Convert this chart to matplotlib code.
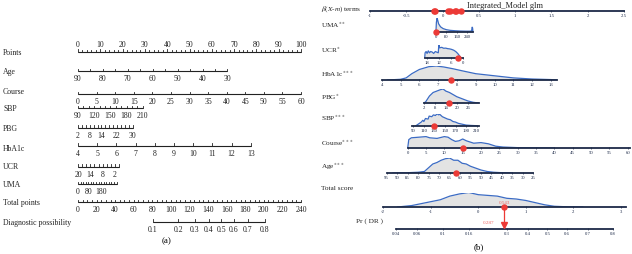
import numpy as np
import matplotlib.pyplot as plt

plt.rcParams['font.family'] = ['Liberation Serif', 'DejaVu Serif']
plt.rcParams['mathtext.fontset'] = 'stix'

W, H = 632, 255

# ---------------- (a) nomogram data ----------------
row_names = ['Points', 'Age', 'Course', 'SBP', 'PBG', 'HbA1c', 'UCR', 'UMA',
             'Total points', 'Diagnostic possibility']

points_ticks = list(range(0, 101, 2))
points_labels = list(range(0, 101, 10))

age_ticks = list(range(90, 29, -5))
age_labels = [90, 80, 70, 60, 50, 40, 30]
course_ticks = list(range(0, 61, 5))
course_labels = list(range(0, 61, 5))
sbp_ticks = list(range(90, 211, 10))
sbp_labels = [90, 120, 150, 180, 210]
pbg_ticks = list(range(2, 31, 2))
pbg_labels = [2, 8, 14, 22, 30]
hba1c_ticks = list(range(4, 14))
hba1c_labels = list(range(4, 14))
ucr_ticks = list(range(20, -1, -2))
ucr_labels = [20, 14, 8, 2]
uma_ticks = list(range(0, 301, 20))
uma_labels = [0, 80, 180]
total_ticks = list(range(0, 241, 5))
total_labels = list(range(0, 241, 20))
diag_ticks = [0.1, 0.2, 0.3, 0.4, 0.5, 0.6, 0.7, 0.8]

# (value giving 0 points, value at end of scale, points at end of scale)
age_scale = (90, 30, 67.0)
course_scale = (0, 60, 100.0)
sbp_scale = (90, 210, 29.0)
pbg_scale = (2, 30, 24.5)
hba1c_scale = (4, 13, 77.5)
ucr_scale = (20, 0, 18.4)
uma_scale = (0, 300, 17.3)
total_scale = (0, 240, 100.0)
# total points = diag_icpt + diag_slope * logit(p)
diag_icpt = 154.3
diag_slope = 33.5

# ---------------- (b) regplot data ----------------
beta_ticks = [-1, -0.5, 0, 0.5, 1, 1.5, 2, 2.5]
beta_terms = [-0.12, -0.10, 0.08, 0.10, 0.17, 0.19, 0.25]

uma_b_ticks = [0, 80, 160, 240]
uma_obs = 0
uma_dx = [0, 3, 8, 12, 20, 35, 55, 80, 110, 150, 190, 230, 270, 276, 280, 283, 286]
uma_dy = [0.1, 0.7, 1.0, 0.9, 0.6, 0.38, 0.25, 0.17, 0.12, 0.09, 0.07, 0.06, 0.06, 0.12, 0.35, 0.3, 0.0]

ucr_b_ticks = [18, 12, 6, 0]
ucr_obs = 2.2
ucr_dx = [19, 18.8, 18.3, 17.8, 17.2, 16.6, 16.0, 15.2, 14.5, 13.7, 13.0, 12.2, 12.0, 11.8, 11.5,
          10.5, 9.5, 8.5, 7.5, 6.5, 5.5, 4.5, 3.5, 2.5, 1.5, 0.8]
ucr_dy = [0.0, 0.4, 0.5, 0.35, 0.55, 0.4, 0.5, 0.45, 0.35, 0.5, 0.45, 0.4, 0.9, 1.0, 0.78,
          0.82, 0.75, 0.76, 0.72, 0.7, 0.66, 0.6, 0.5, 0.35, 0.15, 0.0]

hba1c_b_ticks = list(range(4, 14))
hba1c_obs = 7.7
hba1c_dx = [4.3, 5.0, 5.3, 5.6, 6.0, 6.5, 6.9, 7.3, 7.8, 8.3, 9.0, 10.0, 11.0, 12.0, 13.0, 13.3]
hba1c_dy = [0.0, 0.05, 0.15, 0.45, 0.75, 0.95, 1.0, 0.93, 0.8, 0.65, 0.45, 0.3, 0.15, 0.07, 0.03, 0.0]

pbg_b_ticks = [2, 8, 14, 20, 26]
pbg_obs = 15.6
pbg_dx = [2, 3, 5, 7, 9, 11, 12.5, 14, 16, 18, 20, 23, 26, 29, 32]
pbg_dy = [0.0, 0.1, 0.5, 0.75, 0.85, 0.95, 1.0, 0.85, 0.75, 0.6, 0.45, 0.3, 0.15, 0.05, 0.0]

sbp_b_ticks = [90, 110, 130, 150, 170, 190, 210]
sbp_obs = 130
sbp_dx = [95, 100, 105, 108, 110, 113, 118, 120, 125, 128, 132, 135, 138, 140, 145, 150, 155,
          160, 165, 170, 175, 180, 190, 200, 210]
sbp_dy = [0.0, 0.15, 0.3, 0.45, 0.35, 0.6, 0.55, 0.8, 0.75, 0.9, 0.85, 1.0, 0.9, 0.95, 0.75,
          0.65, 0.55, 0.5, 0.35, 0.3, 0.2, 0.15, 0.05, 0.02, 0.0]

course_b_ticks = list(range(0, 61, 5))
course_obs = 15
course_dx = [0, 0.3, 1, 3, 5, 6, 8, 10, 11, 12, 13, 14, 15, 16, 18, 20, 22, 24, 26, 30, 35, 40]
course_dy = [0.0, 0.7, 0.85, 0.9, 0.95, 0.85, 0.8, 0.95, 0.9, 0.7, 0.55, 0.6, 0.75, 0.6, 0.4,
             0.45, 0.35, 0.15, 0.08, 0.03, 0.01, 0.0]

age_b_ticks = list(range(95, 24, -5))
age_obs = 62
age_dx = [92, 85, 80, 77, 75, 73, 71, 69, 67, 65, 63, 61, 59, 57, 55, 53, 50, 47, 44, 40, 35]
age_dy = [0.0, 0.02, 0.05, 0.1, 0.35, 0.6, 0.7, 0.85, 0.95, 1.0, 0.85, 0.85, 0.65, 0.6, 0.45,
          0.35, 0.2, 0.1, 0.05, 0.02, 0.0]

score_ticks = [-2, -1, 0, 1, 2, 3]
score_obs = 0.543
score_dx = [-1.7, -1.4, -1.1, -0.8, -0.6, -0.4, -0.2, 0.0, 0.2, 0.4, 0.6, 0.8, 1.0, 1.2, 1.4,
            1.6, 1.9, 2.2]
score_dy = [0.0, 0.1, 0.3, 0.5, 0.75, 0.9, 1.0, 0.85, 0.8, 0.75, 0.6, 0.55, 0.45, 0.3, 0.15,
            0.05, 0.01, 0.0]

pr_ticks = [0.04, 0.06, 0.1, 0.16, 0.3, 0.4, 0.5, 0.6, 0.7, 0.8]
pr_obs = 0.287


def logit(p):
    return np.log(p / (1 - p))


def scale_fn(sc):
    v0, v1, p1 = sc
    return lambda v: (v - v0) / (v1 - v0) * p1


fig = plt.figure(figsize=(W / 100, H / 100), dpi=100)

# ---------------- left panel ----------------
P0, P100 = 78.0, 301.0
ppu = (P100 - P0) / 100.0
axl = fig.add_axes([0, 0, 320 / W, 1])
axl.set_xlim(-P0 / ppu, (320 - P0) / ppu)
axl.set_ylim(H, 0)
axl.axis('off')

line_c = '#222222'
fs = 5.6


def fmt(v):
    return f"{v:g}"


def left_row(y, ticks, labels, fn, above=False, major=None):
    xs = [fn(v) for v in ticks]
    axl.plot([min(xs), max(xs)], [y, y], color=line_c, lw=0.8, solid_capstyle='butt')
    for v, x in zip(ticks, xs):
        ln = 2.4 if (major is None or v in major) else 1.5
        axl.plot([x, x], [y, y - ln], color=line_c, lw=0.6)
    dy = -7.5 if above else 7.0
    for v in labels:
        axl.text(fn(v), y + dy, fmt(v), ha='center', va='center', fontsize=fs, color='#222222')


line_ys = [52.7, 72, 95, 109.3, 128.7, 146.7, 167.7, 185, 203, 222.7]
label_ys = [53, 72, 92, 109, 129, 149, 167, 185, 203, 222.7]

tot_fn = scale_fn(total_scale)
diag_fn = lambda p: tot_fn(diag_icpt + diag_slope * logit(p))

left_row(line_ys[0], points_ticks, points_labels, lambda v: v, above=True, major=points_labels)
left_row(line_ys[1], age_ticks, age_labels, scale_fn(age_scale))
left_row(line_ys[2], course_ticks, course_labels, scale_fn(course_scale))
left_row(line_ys[3], sbp_ticks, sbp_labels, scale_fn(sbp_scale))
left_row(line_ys[4], pbg_ticks, pbg_labels, scale_fn(pbg_scale))
left_row(line_ys[5], hba1c_ticks, hba1c_labels, scale_fn(hba1c_scale))
left_row(line_ys[6], ucr_ticks, ucr_labels, scale_fn(ucr_scale))
left_row(line_ys[7], uma_ticks, uma_labels, scale_fn(uma_scale))
left_row(line_ys[8], total_ticks, total_labels, tot_fn)
left_row(line_ys[9], diag_ticks, diag_ticks, diag_fn)

for name, y in zip(row_names, label_ys):
    axl.text(-P0 / ppu + 3 / ppu, y, name, ha='left', va='center', fontsize=fs, color='#222222')

axl.text(tot_fn(95), 241, '(a)', ha='center', va='center', fontsize=6.5)

# ---------------- right panel ----------------
RX0, RX1 = 330.0, 632.0
red = '#ec3a36'
blue = '#3b6bc4'
axis_c = '#1d2a48'
tfs = 3.4


def row_axes(y_line, height, ref, bounds, ticks, labels=None):
    (va, pa), (vb, pb) = ref
    k = (pb - pa) / (vb - va)
    ax = fig.add_axes([RX0 / W, 1 - y_line / H, (RX1 - RX0) / W, height / H])
    ax.set_xlim(va + (RX0 - pa) / k, va + (RX1 - pa) / k)
    ax.set_ylim(0, 1)
    ax.patch.set_visible(False)
    for s in ['top', 'left', 'right']:
        ax.spines[s].set_visible(False)
    ax.spines['bottom'].set_bounds(*bounds)
    ax.spines['bottom'].set_color(axis_c)
    ax.spines['bottom'].set_linewidth(1.3)
    ax.set_yticks([])
    ax.set_xticks(ticks)
    ax.set_xticklabels([fmt(t) for t in ticks] if labels is None else labels)
    ax.tick_params(axis='x', length=1.6, width=0.5, pad=0.8, labelsize=tfs,
                   colors=axis_c, direction='inout')
    return ax


def density(ax, dx, dy):
    ax.fill_between(dx, 0, dy, color='#e3e3e3', lw=0, zorder=1)
    ax.plot(dx, dy, color=blue, lw=0.9, zorder=2)


def dot(ax, x):
    ax.plot([x], [0], 'o', ms=3.6, color=red, mec=red, clip_on=False, zorder=6)


axb = row_axes(12, 2, ((-1, 370), (2.5, 624)), (-1, 2.5), beta_ticks)
axb.set_ylim(0, 1)
for t in beta_terms:
    dot(axb, t)

rows = [
    (33, 13.7, ((0, 436), (240, 467)), (0, 290), uma_b_ticks, uma_dx, uma_dy, uma_obs),
    (59, 13.0, ((18, 426.7), (0, 462.7)), (19, 0), ucr_b_ticks, ucr_dx, ucr_dy, ucr_obs),
    (81, 14.0, ((4, 381.7), (13, 551.0)), (4, 13.3), hba1c_b_ticks, hba1c_dx, hba1c_dy, hba1c_obs),
    (104, 14.0, ((2, 424.0), (26, 467.7)), (2, 32), pbg_b_ticks, pbg_dx, pbg_dy, pbg_obs),
    (126.7, 12.0, ((90, 413.3), (210, 476.7)), (88, 215), sbp_b_ticks, sbp_dx, sbp_dy, sbp_obs),
    (149, 12.0, ((0, 407.7), (60, 627.7)), (0, 60.5), course_b_ticks, course_dx, course_dy, course_obs),
    (174, 15.0, ((95, 386.7), (25, 533.3)), (95, 25), age_b_ticks, age_dx, age_dy, age_obs),
]
for y, h, ref, bnd, tk, dx, dy, obs in rows:
    ax = row_axes(y, h, ref, bnd, tk)
    density(ax, dx, dy)
    dot(ax, obs)

score_ref = ((-2, 383.3), (3, 620.8))
axs = row_axes(208, 14.5, score_ref, (-2, 3.1), score_ticks)
density(axs, score_dx, score_dy)
dot(axs, score_obs)
axs.text(score_obs, 0.22, f"{score_obs:g}", ha='center', va='bottom', fontsize=3.6,
         color='#ee6663', zorder=7)

pr_offset = logit(pr_obs) - score_obs
pr_pos = [logit(p) - pr_offset for p in pr_ticks]
axp = row_axes(230, 22, score_ref, (logit(0.04) - pr_offset, logit(0.8) - pr_offset), pr_pos,
               [fmt(p) for p in pr_ticks])
axp.plot([score_obs, score_obs], [1.0, 0.2], color=red, lw=0.9, clip_on=False, zorder=5)
axp.plot([score_obs], [0.17], 'v', ms=4.2, color=red, clip_on=False, zorder=6)
axp.text(score_obs - 0.33, 0.32, f"{pr_obs:g}", ha='center', va='center', fontsize=3.6,
         color='#ee6663')

# right labels
right_labels = [r'$\beta$($X$-$m$) terms', r'UMA$^{\ast\ast}$', r'UCR$^{\ast}$',
                r'HbA1c$^{\ast\ast\ast}$', r'PBG$^{\ast}$', r'SBP$^{\ast\ast\ast}$',
                r'Course$^{\ast\ast\ast}$', r'Age$^{\ast\ast\ast}$', 'Total score']
right_ys = [9, 25.7, 50, 74, 97.7, 118, 143, 167, 189]
for txt, y in zip(right_labels, right_ys):
    fig.text(321 / W, 1 - y / H, txt, ha='left', va='center', fontsize=5.2, color='#222222')
fig.text(370 / W, 1 - 221 / H, 'Pr ( DR )', ha='center', va='center', fontsize=5.2, color='#222222')
fig.text(505 / W, 1 - 6 / H, 'Integrated_Model glm', ha='center', va='center', fontsize=6,
         color='#222222')
fig.text(479 / W, 1 - 247 / H, '(b)', ha='center', va='center', fontsize=6.5)

fig.savefig('out.png', dpi=100)
